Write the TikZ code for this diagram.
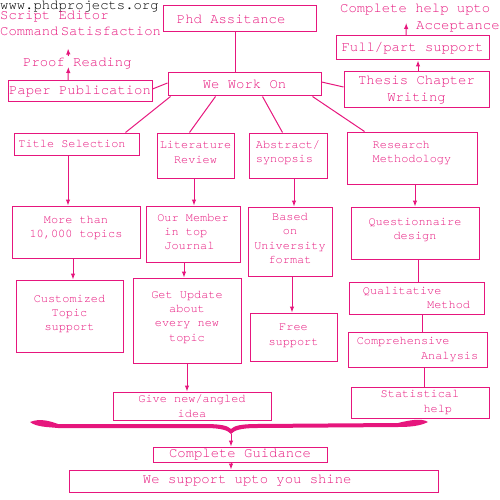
\documentclass[tikz,border=0pt]{standalone}
\usepackage{fontspec}
\setmainfont{TeX Gyre Cursor}
\usetikzlibrary{arrows.meta}
\definecolor{phdpink}{RGB}{230,22,125}
\newcommand{\dep}[1]{\rule[-#1]{0pt}{#1}}
\begin{document}
\begin{tikzpicture}[x=1pt,y=-1pt,every node/.style={inner sep=0pt,text=phdpink},box/.style={draw=phdpink,line width=1pt,align=center,font=\fontsize{11.9}{14.3}\selectfont},boxL/.style={box,font=\fontsize{13.9}{17}\selectfont},txt/.style={anchor=base west,font=\fontsize{13.9}{17}\selectfont},link/.style={draw=phdpink,line width=1pt},arr/.style={link,-{Latex[length=6pt,width=4.5pt]}}]
\useasboundingbox (0,0) rectangle (500,500);

% top left corner
\node[txt,text=black] (web) at (0,9.6) {www.phdprojects.org};
\node[txt] (script) at (0,19.8) {Script Editor};
\node[txt] (cmd) at (0,35.5) {Command\,Satisfaction};
\node[txt] (proof) at (23,67) {Proof Reading};
\node[txt] (help) at (340,13) {Complete help upto};
\node[txt] (accept) at (416,30) {Acceptance};

\node[boxL,minimum width=153pt,minimum height=26pt] (phd) at (239.5,19) {Phd Assitance\hspace*{1.2em}};
\node[boxL,minimum width=153pt,minimum height=23pt] (work) at (244.5,84.5) {We Work On};
\node[boxL,minimum width=144pt,minimum height=21pt] (paper) at (80,91.5) {Paper Publication};
\node[boxL,minimum width=145pt,minimum height=36pt] (thesis) at (416.5,90) {Thesis Chapter\\Writing};
\node[boxL,minimum width=153pt,minimum height=24pt] (full) at (412.5,48) {Full/part support};

% the four columns
\node[box,minimum width=125pt,minimum height=22pt] (title) at (76.5,144) {Title Selection\hspace*{0.75em}};
\node[box,minimum width=77pt,minimum height=45pt] (lit) at (195.5,155.5) {Literature\\Review\dep{6pt}};
\node[box,align=left,minimum width=78pt,minimum height=45pt] (abs) at (288,155.5) {Abstract/\\synopsis\dep{8.5pt}};
\node[box,align=left,minimum width=130pt,minimum height=52pt] (research) at (412,158) {Research\\Methodology\dep{12.5pt}};
\node[box,minimum width=128pt,minimum height=52pt] (more) at (76,232) {More than\\10,000 topics\dep{10.5pt}};
\node[box,align=left,minimum width=94pt,minimum height=56pt] (member) at (193,234) {Our Member\\\hspace*{0.6em}in top\\\hspace*{0.6em}Journal\dep{4pt}};
\node[box,minimum width=84pt,minimum height=69pt] (based) at (290,241.5) {Based\\on\\University\\format\dep{6pt}};
\node[box,minimum width=128pt,minimum height=52pt] (quest) at (415,233) {Questionnaire\\design\dep{8.5pt}};
\node[box,minimum width=107pt,minimum height=72pt] (custom) at (69.5,316) {Customized\\Topic\\support\dep{6.5pt}};
\node[box,minimum width=108pt,minimum height=85pt] (update) at (187,320.5) {Get Update\\about\\every new\\topic\dep{8.5pt}};
\node[box,minimum width=87pt,minimum height=48pt] (free) at (293.5,337) {Free\\support\dep{4.5pt}};
\node[box,minimum width=158pt,minimum height=28pt] (give) at (192,406) {Give new/angled\\idea};
\node[box,align=left,minimum width=135pt,minimum height=32pt] (qual) at (416.5,298) {Qualitative\\\hspace*{5.4em}Method};
\node[box,align=left,minimum width=139pt,minimum height=35pt] (comp) at (417.5,349.5) {Comprehensive\\\hspace*{5.4em}Analysis};
\node[box,align=left,minimum width=138pt,minimum height=31pt] (stat) at (420,402.5) {Statistical\\\hspace*{3.6em}help};

% bottom
\node[boxL,minimum width=174pt,minimum height=15pt] (guide) at (240,454.5) {Complete Guidance};
\node[boxL,minimum width=369pt,minimum height=22pt] (shine) at (253.5,481) {We support upto you shine\hspace*{0.9em}};

\fill[phdpink] (30,422) .. controls (40,418) and (50,421) .. (58,424) -- (205,424) .. controls (222,424) and (228,426) .. (231,429) .. controls (234,426) and (240,424) .. (257,424) -- (398,423) .. controls (410,420) and (422,418) .. (428,422) .. controls (420,426) and (410,427) .. (398,427) -- (257,428) .. controls (242,428) and (234,430) .. (231,434) .. controls (228,430) and (220,428) .. (205,428) -- (58,428) .. controls (48,427) and (36,427) .. (30,422) -- cycle;
\coordinate (tip) at (231,434);

\draw[link] ([xshift=-4.5pt]phd.south) -- ([xshift=-9.5pt]work.north);
\draw[link] ([yshift=1.5pt]work.west) -- ([yshift=2.5pt]paper.east);
\draw[link] ([yshift=2.5pt]work.east) -- ([yshift=3pt]thesis.west);
\draw[arr] ([xshift=1.5pt]thesis.north) -- ([xshift=5.5pt]full.south);
\draw[arr] ([xshift=-6.5pt]full.north) -- ([xshift=-9pt,yshift=-10pt]help.base);
\draw[arr] ([xshift=-12pt]paper.north) -- ([xshift=-9pt]proof.base);
\draw[arr] ([xshift=-9pt,yshift=11pt]proof.base) -- ([xshift=-12.5pt,yshift=-13pt]cmd.base);

\draw[link] ([xshift=3pt]work.south west) -- ([xshift=-14pt]title.north east);
\draw[link] ([xshift=48pt]work.south west) -- ([xshift=33pt]lit.north west);
\draw[link] ([xshift=-59pt]work.south east) -- ([xshift=34pt]abs.north west);
\draw[link] ([xshift=-9pt]work.south east) -- ([xshift=18pt]research.north west);

\draw[arr] ([xshift=-8.5pt]title.south) -- ([xshift=-8pt]more.north);
\draw[arr] ([xshift=-1.5pt]lit.south) -- ([xshift=1pt]member.north);
\draw[arr] ([xshift=6pt]abs.south) -- ([xshift=4pt]based.north);
\draw[arr] ([xshift=3pt]research.south) -- (quest.north);
\draw[arr] ([xshift=-3pt]more.south) -- ([xshift=3.5pt]custom.north);
\draw[arr] ([xshift=-9pt]member.south) -- ([xshift=-3pt]update.north);
\draw[arr] (update.south) -- ([xshift=-5pt]give.north);
\draw[arr] ([xshift=2pt]based.south) -- ([xshift=-1.5pt]free.north);
\draw[link] ([xshift=3pt]quest.south) -- ([xshift=1.5pt]qual.north);
\draw[link] ([xshift=5.5pt]qual.south) -- ([xshift=4.5pt]comp.north);
\draw[link] ([xshift=6.5pt]comp.south) -- ([xshift=4pt]stat.north);
\draw[arr] (tip) -- ([xshift=-9pt]guide.north);
\draw[arr] ([xshift=-9pt]guide.south) -- ([xshift=-22.5pt]shine.north);
\end{tikzpicture}
\end{document}
